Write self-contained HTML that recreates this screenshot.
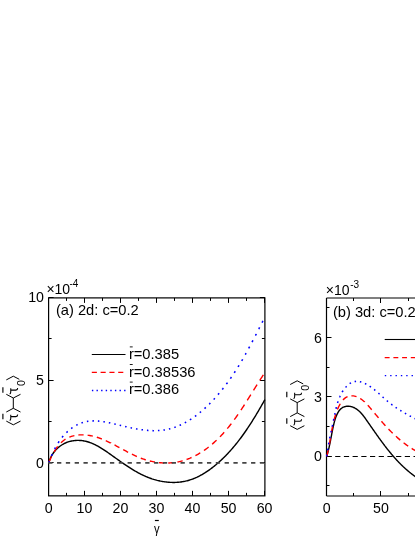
<!DOCTYPE html>
<html><head><meta charset="utf-8"><title>chart</title>
<style>
html,body{margin:0;padding:0;background:#fff;}
svg{display:block;will-change:transform;}
text{font-family:"Liberation Sans",sans-serif;fill:#000;}
.tau{font-family:"Liberation Serif",serif;}
</style></head><body>
<svg width="415" height="537" viewBox="0 0 415 537">
<rect width="415" height="537" fill="#fff"/>
<defs><clipPath id="cr"><rect x="320" y="290" width="95" height="215"/></clipPath></defs>
<!-- left panel -->
<g fill="none" stroke="#000" stroke-width="1.2">
<rect x="48.6" y="297.9" width="216.30" height="197.95"/>
<path d="M326.5,496.0 H416 M326.5,298.0 H416 M326.5,298.0 V496.0"/>
</g>
<g fill="none" stroke="#000" stroke-width="1">
<path d="M48.50,495.85 v-5 M48.50,297.9 v5"/>
<path d="M66.50,495.85 v-3 M66.50,297.9 v3"/>
<path d="M84.50,495.85 v-5 M84.50,297.9 v5"/>
<path d="M102.50,495.85 v-3 M102.50,297.9 v3"/>
<path d="M120.50,495.85 v-5 M120.50,297.9 v5"/>
<path d="M138.50,495.85 v-3 M138.50,297.9 v3"/>
<path d="M156.50,495.85 v-5 M156.50,297.9 v5"/>
<path d="M174.50,495.85 v-3 M174.50,297.9 v3"/>
<path d="M192.50,495.85 v-5 M192.50,297.9 v5"/>
<path d="M210.50,495.85 v-3 M210.50,297.9 v3"/>
<path d="M228.50,495.85 v-5 M228.50,297.9 v5"/>
<path d="M246.50,495.85 v-3 M246.50,297.9 v3"/>
<path d="M264.50,495.85 v-5 M264.50,297.9 v5"/>
<path d="M48.6,297.50 h5 M264.9,297.50 h-5"/>
<path d="M48.6,338.50 h3 M264.9,338.50 h-3"/>
<path d="M48.6,380.50 h5 M264.9,380.50 h-5"/>
<path d="M48.6,421.50 h3 M264.9,421.50 h-3"/>
<path d="M48.6,462.50 h5 M264.9,462.50 h-5"/>
<path d="M326.50,496.0 v-5 M326.50,298.0 v5"/>
<path d="M353.50,496.0 v-3 M353.50,298.0 v3"/>
<path d="M380.50,496.0 v-5 M380.50,298.0 v5"/>
<path d="M408.50,496.0 v-3 M408.50,298.0 v3"/>
<path d="M326.5,307.50 h3"/>
<path d="M326.5,337.50 h5"/>
<path d="M326.5,367.50 h3"/>
<path d="M326.5,396.50 h5"/>
<path d="M326.5,426.50 h3"/>
<path d="M326.5,456.50 h5"/>
<path d="M326.5,485.50 h3"/>
</g>
<!-- zero lines -->
<path d="M326.5,456.5 H416" stroke="#000" stroke-width="1.1" stroke-dasharray="5.2,3.5" fill="none"/>
<!-- curves left -->
<path d="M48.70,462.91 L48.98,461.94 L49.28,460.99 L49.61,460.06 L49.97,459.15 L50.36,458.25 L50.77,457.37 L51.20,456.51 L51.66,455.66 L52.14,454.84 L52.65,454.03 L53.18,453.25 L53.73,452.48 L54.30,451.73 L54.89,451.01 L55.50,450.30 L56.13,449.62 L56.78,448.96 L57.44,448.32 L58.12,447.71 L58.82,447.11 L59.53,446.54 L60.26,446.00 L61.00,445.47 L61.76,444.98 L62.53,444.50 L63.31,444.05 L64.10,443.63 L64.90,443.24 L65.71,442.87 L66.54,442.52 L67.37,442.21 L68.21,441.91 L69.05,441.65 L69.90,441.41 L70.76,441.20 L71.63,441.01 L72.50,440.85 L73.37,440.71 L74.25,440.60 L75.13,440.51 L76.02,440.45 L76.90,440.41 L77.79,440.39 L78.68,440.40 L79.56,440.43 L80.45,440.49 L81.34,440.57 L82.22,440.67 L83.10,440.79 L83.98,440.94 L84.86,441.11 L85.73,441.30 L86.60,441.51 L87.46,441.75 L88.31,442.00 L89.17,442.28 L90.01,442.57 L90.86,442.88 L91.70,443.21 L92.53,443.56 L93.36,443.93 L94.19,444.31 L95.01,444.70 L95.83,445.11 L96.65,445.53 L97.46,445.97 L98.27,446.41 L99.08,446.87 L99.88,447.34 L100.68,447.82 L101.48,448.31 L102.27,448.81 L103.06,449.31 L103.85,449.83 L104.64,450.35 L105.42,450.87 L106.21,451.40 L106.99,451.94 L107.76,452.48 L108.54,453.02 L109.32,453.57 L110.09,454.11 L110.86,454.66 L111.63,455.21 L112.40,455.76 L113.17,456.31 L113.93,456.86 L114.70,457.40 L115.47,457.95 L116.23,458.50 L116.99,459.04 L117.76,459.59 L118.52,460.13 L119.28,460.67 L120.05,461.21 L120.81,461.74 L121.57,462.28 L122.34,462.81 L123.10,463.34 L123.86,463.86 L124.63,464.39 L125.40,464.90 L126.16,465.42 L126.93,465.93 L127.70,466.44 L128.47,466.94 L129.24,467.44 L130.02,467.94 L130.79,468.43 L131.57,468.91 L132.35,469.39 L133.13,469.87 L133.91,470.34 L134.70,470.80 L135.49,471.26 L136.28,471.71 L137.07,472.15 L137.87,472.59 L138.66,473.02 L139.47,473.45 L140.27,473.86 L141.08,474.27 L141.89,474.67 L142.71,475.07 L143.53,475.45 L144.35,475.83 L145.17,476.20 L146.00,476.56 L146.84,476.91 L147.68,477.26 L148.52,477.59 L149.37,477.92 L150.22,478.23 L151.08,478.53 L151.94,478.83 L152.81,479.11 L153.68,479.39 L154.56,479.65 L155.44,479.90 L156.33,480.15 L157.22,480.38 L158.12,480.59 L159.02,480.80 L159.92,481.00 L160.83,481.18 L161.74,481.35 L162.65,481.52 L163.57,481.66 L164.48,481.80 L165.40,481.92 L166.33,482.03 L167.25,482.13 L168.17,482.21 L169.10,482.28 L170.02,482.34 L170.95,482.39 L171.88,482.42 L172.80,482.43 L173.73,482.44 L174.65,482.43 L175.57,482.40 L176.49,482.36 L177.41,482.31 L178.33,482.24 L179.25,482.15 L180.16,482.06 L181.07,481.94 L181.97,481.81 L182.88,481.67 L183.77,481.51 L184.67,481.33 L185.56,481.14 L186.45,480.93 L187.33,480.71 L188.20,480.47 L189.08,480.21 L189.95,479.94 L190.81,479.66 L191.67,479.36 L192.52,479.05 L193.37,478.73 L194.22,478.39 L195.06,478.04 L195.90,477.67 L196.73,477.30 L197.55,476.91 L198.38,476.51 L199.19,476.10 L200.01,475.68 L200.82,475.24 L201.62,474.80 L202.42,474.34 L203.21,473.88 L204.00,473.40 L204.79,472.92 L205.57,472.42 L206.35,471.92 L207.12,471.41 L207.88,470.89 L208.64,470.36 L209.40,469.82 L210.15,469.28 L210.90,468.72 L211.64,468.17 L212.38,467.60 L213.11,467.03 L213.84,466.45 L214.57,465.87 L215.28,465.28 L216.00,464.68 L216.71,464.08 L217.41,463.48 L218.11,462.87 L218.80,462.25 L219.49,461.63 L220.18,461.01 L220.86,460.39 L221.53,459.75 L222.20,459.12 L222.87,458.48 L223.53,457.84 L224.19,457.19 L224.84,456.54 L225.49,455.89 L226.13,455.23 L226.77,454.57 L227.40,453.91 L228.03,453.24 L228.66,452.57 L229.28,451.89 L229.90,451.21 L230.51,450.53 L231.12,449.85 L231.73,449.16 L232.33,448.47 L232.93,447.77 L233.52,447.07 L234.11,446.37 L234.70,445.67 L235.29,444.96 L235.86,444.25 L236.44,443.54 L237.01,442.82 L237.58,442.10 L238.15,441.38 L238.71,440.65 L239.27,439.93 L239.82,439.20 L240.38,438.47 L240.93,437.73 L241.47,436.99 L242.02,436.25 L242.56,435.51 L243.09,434.77 L243.63,434.02 L244.16,433.27 L244.68,432.52 L245.21,431.77 L245.73,431.01 L246.25,430.25 L246.77,429.49 L247.28,428.73 L247.80,427.97 L248.30,427.20 L248.81,426.44 L249.32,425.67 L249.82,424.90 L250.32,424.12 L250.82,423.35 L251.31,422.57 L251.80,421.80 L252.29,421.02 L252.78,420.24 L253.27,419.46 L253.75,418.67 L254.24,417.89 L254.72,417.10 L255.20,416.32 L255.67,415.53 L256.15,414.74 L256.62,413.95 L257.09,413.16 L257.56,412.37 L258.03,411.57 L258.50,410.78 L258.96,409.99 L259.43,409.19 L259.89,408.39 L260.35,407.60 L260.81,406.80 L261.27,406.00 L261.73,405.20 L262.18,404.40 L262.64,403.60 L263.09,402.80 L263.54,402.00 L264.00,401.20 L264.45,400.40 L264.90,399.60" fill="none" stroke="#000" stroke-width="1.4"/>
<path d="M48.70,462.90 L49.21,461.66 L49.76,460.39 L50.33,459.10 L50.94,457.79 L51.56,456.51 M54.08,451.86 L54.74,450.77 L55.44,449.67 L56.16,448.59 L56.92,447.53 L57.70,446.49 L57.74,446.44 M60.95,442.81 L61.81,441.99 L62.70,441.21 L63.62,440.47 L64.56,439.77 L65.50,439.14 M69.32,437.17 L70.28,436.79 L71.30,436.43 L72.34,436.11 L73.39,435.83 L74.40,435.60 M78.43,434.99 L79.40,434.91 L80.43,434.86 L81.45,434.83 L82.48,434.83 L83.50,434.85 L83.63,434.85 M87.67,435.19 L88.68,435.32 L89.74,435.49 L90.79,435.69 L91.84,435.90 L92.83,436.13 M96.81,437.22 L97.80,437.54 L98.82,437.88 L99.84,438.24 L100.86,438.62 L101.87,439.01 M105.76,440.66 L106.71,441.09 L107.71,441.56 L108.71,442.03 L109.70,442.52 L110.70,443.01 L110.70,443.02 M114.53,444.98 L115.48,445.48 L116.47,446.01 L117.46,446.54 L118.45,447.08 L119.41,447.60 M123.21,449.66 L124.16,450.17 L125.16,450.71 L126.16,451.24 L127.16,451.77 L128.10,452.26 M131.93,454.20 L132.90,454.67 L133.92,455.15 L134.94,455.63 L135.96,456.10 L136.89,456.51 M140.79,458.12 L141.73,458.47 L142.72,458.83 L143.71,459.18 L144.70,459.51 L145.70,459.83 L145.85,459.87 M149.83,460.98 L150.82,461.21 L151.84,461.44 L152.86,461.66 L153.88,461.86 L154.91,462.04 L154.98,462.05 M159.01,462.62 L159.98,462.72 L161.02,462.81 L162.05,462.88 L163.08,462.94 L164.11,462.98 L164.20,462.99 M168.25,462.99 L169.27,462.95 L170.29,462.89 L171.32,462.82 L172.34,462.73 L173.36,462.62 L173.44,462.61 M177.47,462.00 L178.43,461.82 L179.43,461.60 L180.43,461.37 L181.42,461.12 L182.41,460.85 L182.61,460.80 M186.56,459.53 L187.56,459.16 L188.59,458.77 L189.61,458.36 L190.62,457.92 L191.57,457.50 M195.42,455.63 L196.40,455.11 L197.37,454.57 L198.33,454.02 L199.29,453.46 L200.24,452.88 L200.27,452.87 M203.97,450.46 L204.88,449.82 L205.85,449.14 L206.80,448.44 L207.74,447.73 L208.62,447.05 M212.17,444.16 L213.05,443.40 L213.93,442.62 L214.80,441.84 L215.66,441.04 L216.52,440.24 L216.60,440.17 M219.96,436.84 L220.81,435.96 L221.66,435.06 L222.51,434.15 L223.34,433.23 L224.15,432.32 M227.32,428.62 L228.11,427.67 L228.89,426.71 L229.67,425.73 L230.44,424.75 L231.21,423.77 L231.28,423.67 M234.28,419.67 L235.03,418.65 L235.80,417.58 L236.56,416.50 L237.33,415.42 L238.04,414.39 M240.90,410.17 L241.63,409.07 L242.36,407.97 L243.09,406.86 L243.81,405.75 L244.51,404.67 M247.28,400.32 L247.97,399.22 L248.68,398.10 L249.38,396.97 L250.08,395.85 L250.78,394.73 L250.80,394.70 M253.54,390.31 L254.23,389.19 L254.93,388.08 L255.62,386.96 L256.32,385.85 L257.02,384.74 L257.06,384.68 M259.82,380.33 L260.52,379.24 L261.23,378.15 L261.93,377.07 L262.64,375.99 L263.35,374.91 L263.42,374.81" fill="none" stroke="#ff0000" stroke-width="1.4"/>
<path d="M48.70,462.90 L48.84,462.51 L48.98,462.12 L49.13,461.73 L49.27,461.34 L49.41,460.96 M51.43,455.88 L51.57,455.56 L51.72,455.22 L51.87,454.88 L52.01,454.54 L52.16,454.21 L52.24,454.03 M54.55,449.22 L54.69,448.95 L54.86,448.61 L55.04,448.28 L55.21,447.94 L55.39,447.61 L55.47,447.48 M58.08,443.02 L58.24,442.76 L58.45,442.44 L58.66,442.12 L58.87,441.80 L59.08,441.49 L59.11,441.43 M62.05,437.43 L62.28,437.14 L62.52,436.85 L62.76,436.56 L63.00,436.27 L63.20,436.03 M66.44,432.58 L66.67,432.37 L66.94,432.11 L67.21,431.85 L67.49,431.60 L67.71,431.40 M71.19,428.52 L71.44,428.34 L71.73,428.13 L72.03,427.91 L72.33,427.70 L72.54,427.56 M76.23,425.28 L76.47,425.15 L76.73,425.02 L76.98,424.88 L77.24,424.75 L77.49,424.62 L77.64,424.55 M81.48,422.91 L81.73,422.83 L81.99,422.73 L82.26,422.64 L82.52,422.56 L82.79,422.47 L82.95,422.42 M86.89,421.47 L87.11,421.43 L87.39,421.39 L87.66,421.34 L87.93,421.30 L88.21,421.26 L88.38,421.24 M92.38,420.91 L92.65,420.90 L92.93,420.89 L93.21,420.89 L93.49,420.89 L93.77,420.88 L93.88,420.88 M97.88,421.04 L98.09,421.06 L98.38,421.08 L98.66,421.11 L98.95,421.13 L99.24,421.16 L99.37,421.17 M103.36,421.69 L103.63,421.73 L103.92,421.78 L104.21,421.83 L104.50,421.88 L104.79,421.92 L104.85,421.93 M108.81,422.69 L109.11,422.75 L109.40,422.81 L109.69,422.88 L109.99,422.94 L110.28,423.00 L110.30,423.01 M114.25,423.91 L114.49,423.97 L114.78,424.04 L115.08,424.11 L115.37,424.18 L115.67,424.25 L115.73,424.26 M119.68,425.22 L119.90,425.28 L120.20,425.35 L120.50,425.42 L120.80,425.49 L121.09,425.57 L121.16,425.58 M125.11,426.52 L125.34,426.57 L125.64,426.64 L125.94,426.71 L126.23,426.78 L126.53,426.84 L126.59,426.86 M130.55,427.72 L130.78,427.77 L131.08,427.84 L131.38,427.90 L131.68,427.96 L131.97,428.02 L132.03,428.03 M136.00,428.79 L136.29,428.85 L136.59,428.90 L136.89,428.95 L137.18,429.00 L137.48,429.05 L137.49,429.05 M141.47,429.67 L141.70,429.71 L142.00,429.75 L142.29,429.79 L142.59,429.82 L142.88,429.86 L142.96,429.87 M146.95,430.31 L147.22,430.33 L147.52,430.36 L147.81,430.38 L148.10,430.40 L148.39,430.43 L148.45,430.43 M152.44,430.63 L152.69,430.64 L152.98,430.65 L153.27,430.65 L153.56,430.66 L153.85,430.66 L153.94,430.66 M157.94,430.58 L158.16,430.57 L158.45,430.56 L158.73,430.54 L159.02,430.52 L159.30,430.51 L159.44,430.50 M163.43,430.08 L163.69,430.05 L163.97,430.01 L164.25,429.96 L164.53,429.92 L164.81,429.88 L164.92,429.86 M168.88,429.05 L169.10,429.00 L169.38,428.93 L169.65,428.86 L169.93,428.79 L170.20,428.72 L170.36,428.68 M174.28,427.48 L174.54,427.39 L174.81,427.30 L175.08,427.20 L175.35,427.11 L175.61,427.01 L175.74,426.96 M179.59,425.40 L179.85,425.28 L180.11,425.17 L180.37,425.05 L180.63,424.93 L180.89,424.81 L181.02,424.75 M184.81,422.84 L185.02,422.72 L185.28,422.58 L185.53,422.44 L185.78,422.30 L186.04,422.16 L186.21,422.06 M189.92,419.84 L190.12,419.71 L190.36,419.55 L190.61,419.40 L190.86,419.23 L191.10,419.07 L191.29,418.95 M194.91,416.44 L195.12,416.29 L195.36,416.11 L195.60,415.93 L195.84,415.76 L196.08,415.58 L196.25,415.45 M199.77,412.68 L200.02,412.48 L200.31,412.24 L200.60,412.00 L200.89,411.75 L201.08,411.59 M204.52,408.59 L204.75,408.37 L205.03,408.12 L205.31,407.86 L205.59,407.60 L205.79,407.42 M209.13,404.19 L209.36,403.97 L209.62,403.70 L209.89,403.43 L210.16,403.16 L210.37,402.95 M213.62,399.53 L213.88,399.26 L214.13,398.98 L214.39,398.70 L214.64,398.42 L214.83,398.21 M217.99,394.62 L218.24,394.33 L218.48,394.05 L218.73,393.76 L218.97,393.47 L219.16,393.24 M222.24,389.48 L222.43,389.25 L222.66,388.96 L222.89,388.67 L223.12,388.38 L223.35,388.08 L223.38,388.05 M226.37,384.14 L226.58,383.85 L226.80,383.56 L227.02,383.26 L227.24,382.97 L227.45,382.67 L227.47,382.65 M230.37,378.60 L230.56,378.32 L230.77,378.02 L230.98,377.72 L231.19,377.42 L231.39,377.12 L231.44,377.05 M234.25,372.86 L234.43,372.59 L234.63,372.28 L234.83,371.98 L235.03,371.67 L235.22,371.37 L235.29,371.27 M238.01,366.96 L238.16,366.71 L238.35,366.40 L238.54,366.09 L238.73,365.79 L238.92,365.48 L239.01,365.33 M241.66,360.91 L241.82,360.64 L242.00,360.32 L242.18,360.01 L242.37,359.70 L242.55,359.39 L242.63,359.24 M245.20,354.73 L245.38,354.42 L245.55,354.10 L245.73,353.79 L245.91,353.47 L246.08,353.16 L246.15,353.03 M248.66,348.45 L248.83,348.13 L249.00,347.81 L249.18,347.49 L249.35,347.17 L249.52,346.85 L249.59,346.72 M252.05,342.08 L252.21,341.77 L252.38,341.45 L252.55,341.13 L252.72,340.80 L252.89,340.48 L252.97,340.33 M255.39,335.65 L255.55,335.35 L255.71,335.02 L255.88,334.69 L256.05,334.37 L256.22,334.04 L256.29,333.89 M258.69,329.19 L258.83,328.92 L259.00,328.59 L259.17,328.26 L259.33,327.93 L259.50,327.60 L259.59,327.43 M261.99,322.72 L262.13,322.44 L262.30,322.11 L262.47,321.78 L262.63,321.44 L262.80,321.11 L262.89,320.95" fill="none" stroke="#0000ff" stroke-width="1.55"/>
<path d="M48.2,462.8 H264.9" stroke="#454545" stroke-width="1.65" stroke-dasharray="4.3,4.52" fill="none"/>
<g clip-path="url(#cr)">
<path d="M326.70,456.40 L326.87,455.82 L327.05,455.24 L327.21,454.67 L327.37,454.10 L327.53,453.54 L327.69,452.98 L327.84,452.42 L327.98,451.87 L328.13,451.32 L328.27,450.78 L328.40,450.23 L328.54,449.69 L328.67,449.16 L328.79,448.62 L328.92,448.09 L329.04,447.56 L329.16,447.03 L329.28,446.50 L329.39,445.98 L329.51,445.45 L329.62,444.93 L329.73,444.41 L329.84,443.89 L329.94,443.37 L330.05,442.85 L330.15,442.34 L330.25,441.82 L330.35,441.30 L330.46,440.78 L330.56,440.26 L330.65,439.75 L330.75,439.23 L330.85,438.71 L330.95,438.19 L331.05,437.67 L331.15,437.14 L331.25,436.62 L331.35,436.09 L331.45,435.56 L331.55,435.04 L331.65,434.50 L331.75,433.97 L331.85,433.43 L331.96,432.89 L332.06,432.35 L332.17,431.81 L332.28,431.26 L332.39,430.71 L332.50,430.16 L332.61,429.60 L332.73,429.04 L332.85,428.47 L332.97,427.90 L333.09,427.33 L333.21,426.75 L333.34,426.16 L333.47,425.58 L333.61,424.99 L333.75,424.39 L333.89,423.80 L334.04,423.20 L334.19,422.61 L334.34,422.01 L334.50,421.41 L334.67,420.82 L334.84,420.23 L335.01,419.64 L335.19,419.06 L335.38,418.48 L335.57,417.90 L335.78,417.33 L335.98,416.77 L336.20,416.21 L336.42,415.67 L336.65,415.13 L336.89,414.60 L337.13,414.08 L337.39,413.57 L337.65,413.07 L337.92,412.59 L338.20,412.11 L338.49,411.65 L338.79,411.21 L339.10,410.78 L339.42,410.37 L339.76,409.97 L340.10,409.59 L340.45,409.22 L340.81,408.88 L341.19,408.55 L341.58,408.25 L341.97,407.96 L342.39,407.70 L342.81,407.45 L343.25,407.23 L343.69,407.03 L344.15,406.86 L344.62,406.70 L345.10,406.57 L345.58,406.46 L346.07,406.37 L346.57,406.30 L347.08,406.25 L347.59,406.23 L348.10,406.22 L348.62,406.24 L349.14,406.28 L349.66,406.33 L350.18,406.41 L350.70,406.51 L351.22,406.62 L351.74,406.76 L352.26,406.92 L352.77,407.10 L353.28,407.30 L353.78,407.51 L354.28,407.75 L354.77,408.00 L355.26,408.27 L355.73,408.56 L356.21,408.86 L356.67,409.18 L357.13,409.51 L357.58,409.85 L358.03,410.20 L358.47,410.57 L358.90,410.94 L359.32,411.33 L359.73,411.72 L360.13,412.11 L360.53,412.52 L360.92,412.93 L361.30,413.34 L361.68,413.77 L362.05,414.19 L362.41,414.62 L362.77,415.06 L363.12,415.50 L363.47,415.94 L363.81,416.39 L364.15,416.84 L364.49,417.29 L364.82,417.75 L365.15,418.21 L365.48,418.67 L365.81,419.13 L366.13,419.59 L366.46,420.05 L366.78,420.51 L367.10,420.98 L367.43,421.44 L367.75,421.90 L368.07,422.37 L368.39,422.83 L368.72,423.29 L369.04,423.76 L369.36,424.22 L369.68,424.68 L370.01,425.15 L370.33,425.61 L370.65,426.07 L370.97,426.54 L371.29,427.00 L371.62,427.46 L371.94,427.93 L372.26,428.39 L372.58,428.85 L372.91,429.31 L373.23,429.77 L373.55,430.24 L373.87,430.70 L374.20,431.16 L374.52,431.62 L374.84,432.08 L375.17,432.54 L375.49,433.00 L375.81,433.46 L376.14,433.92 L376.46,434.38 L376.79,434.84 L377.11,435.29 L377.44,435.75 L377.76,436.21 L378.09,436.67 L378.42,437.12 L378.74,437.58 L379.07,438.03 L379.40,438.49 L379.73,438.94 L380.06,439.40 L380.39,439.85 L380.72,440.30 L381.05,440.75 L381.38,441.20 L381.71,441.65 L382.04,442.10 L382.38,442.55 L382.71,443.00 L383.04,443.45 L383.38,443.90 L383.71,444.34 L384.05,444.79 L384.39,445.23 L384.73,445.67 L385.06,446.12 L385.40,446.56 L385.74,447.00 L386.09,447.44 L386.43,447.88 L386.77,448.32 L387.11,448.76 L387.46,449.19 L387.80,449.63 L388.15,450.06 L388.50,450.50 L388.85,450.93 L389.20,451.36 L389.55,451.79 L389.90,452.22 L390.25,452.65 L390.60,453.07 L390.96,453.50 L391.32,453.93 L391.67,454.35 L392.03,454.77 L392.39,455.19 L392.75,455.61 L393.11,456.03 L393.47,456.45 L393.84,456.87 L394.20,457.28 L394.57,457.69 L394.94,458.11 L395.31,458.52 L395.68,458.93 L396.05,459.34 L396.42,459.74 L396.80,460.15 L397.17,460.55 L397.55,460.95 L397.93,461.36 L398.31,461.76 L398.69,462.15 L399.08,462.55 L399.46,462.95 L399.85,463.34 L400.23,463.73 L400.62,464.12 L401.01,464.51 L401.41,464.90 L401.80,465.28 L402.20,465.67 L402.60,466.05 L402.99,466.43 L403.40,466.81 L403.80,467.19 L404.20,467.56 L404.61,467.94 L405.02,468.31 L405.43,468.68 L405.84,469.05 L406.25,469.41 L406.67,469.78 L407.08,470.14 L407.50,470.50 L407.92,470.86 L408.35,471.22 L408.77,471.57 L409.20,471.92 L409.63,472.28 L410.06,472.62 L410.49,472.97 L410.92,473.32 L411.36,473.66 L411.80,474.00 L412.24,474.34 L412.68,474.68 L413.13,475.01 L413.57,475.35 L414.02,475.68 L414.48,476.00 L414.93,476.33 L415.39,476.65 L415.84,476.98 L416.30,477.30 L416.77,477.61 L417.23,477.93 L417.70,478.24 L418.17,478.55 L418.64,478.86 L419.11,479.17 L419.59,479.47 L420.07,479.77 L420.55,480.07 L421.04,480.37 L421.52,480.66 L422.01,480.95 L422.50,481.24 L423.00,481.53" fill="none" stroke="#000" stroke-width="1.4"/>
<path d="M326.70,456.40 L327.05,455.07 L327.39,453.74 L327.70,452.42 L328.00,451.11 L328.29,449.80 L328.31,449.73 M329.31,444.64 L329.55,443.30 L329.79,441.94 L330.02,440.58 L330.25,439.23 L330.48,437.88 L330.49,437.80 M331.37,432.67 L331.60,431.34 L331.85,429.99 L332.10,428.65 L332.37,427.30 L332.64,425.95 L332.66,425.87 M333.82,420.85 L334.15,419.57 L334.51,418.28 L334.88,416.98 L335.28,415.68 L335.70,414.37 L335.72,414.31 M337.44,409.59 L337.94,408.37 L338.48,407.15 L339.05,405.96 L339.66,404.80 L340.27,403.72 M342.99,399.96 L343.81,399.12 L344.68,398.36 L345.59,397.69 L346.55,397.11 L347.54,396.64 M351.38,395.84 L352.42,395.84 L353.46,395.92 L354.50,396.08 L355.52,396.33 L356.53,396.64 M360.19,398.46 L361.09,399.06 L362.00,399.73 L362.90,400.45 L363.78,401.20 L364.65,401.99 L364.66,402.01 M367.77,405.19 L368.55,406.06 L369.35,406.97 L370.13,407.88 L370.90,408.79 L371.66,409.69 L371.72,409.76 M374.64,413.25 L375.42,414.18 L376.21,415.12 L377.00,416.06 L377.78,416.99 L378.54,417.89 M381.49,421.33 L382.27,422.23 L383.06,423.12 L383.86,424.02 L384.67,424.91 L385.48,425.81 L385.49,425.82 M388.55,429.08 L389.35,429.91 L390.19,430.77 L391.03,431.62 L391.88,432.46 L392.72,433.28 M395.92,436.29 L396.78,437.08 L397.66,437.86 L398.54,438.63 L399.44,439.40 L400.28,440.11 M403.63,442.81 L404.51,443.49 L405.42,444.17 L406.33,444.83 L407.25,445.49 L408.17,446.14 L408.20,446.16 M411.70,448.46 L412.65,449.05 L413.61,449.62 L414.58,450.18 L415.55,450.73 L416.48,451.23" fill="none" stroke="#ff0000" stroke-width="1.4"/>
<path d="M326.70,456.40 L326.74,456.07 L326.79,455.74 L326.83,455.41 L326.87,455.08 L326.92,454.76 L326.93,454.70 M327.56,450.39 L327.61,450.05 L327.67,449.69 L327.72,449.33 L327.78,448.97 L327.83,448.69 M328.56,444.40 L328.62,444.09 L328.67,443.77 L328.73,443.46 L328.79,443.15 L328.85,442.83 L328.87,442.71 M329.68,438.45 L329.75,438.10 L329.82,437.75 L329.89,437.40 L329.96,437.05 L330.02,436.76 M330.89,432.51 L330.96,432.20 L331.03,431.85 L331.11,431.50 L331.18,431.15 L331.25,430.84 M332.16,426.59 L332.23,426.26 L332.31,425.91 L332.38,425.56 L332.46,425.20 L332.52,424.92 M333.44,420.68 L333.50,420.38 L333.57,420.07 L333.64,419.75 L333.71,419.44 L333.78,419.12 L333.80,419.00 M334.71,414.76 L334.77,414.46 L334.84,414.14 L334.90,413.82 L334.97,413.50 L335.04,413.17 L335.06,413.08 M335.99,408.85 L336.07,408.54 L336.14,408.22 L336.22,407.89 L336.30,407.57 L336.38,407.25 L336.39,407.18 M337.52,403.01 L337.61,402.70 L337.71,402.38 L337.81,402.06 L337.91,401.75 L338.01,401.43 L338.02,401.39 M339.50,397.36 L339.63,397.06 L339.75,396.76 L339.89,396.46 L340.02,396.16 L340.16,395.86 L340.17,395.82 M342.13,392.08 L342.29,391.80 L342.46,391.52 L342.64,391.24 L342.82,390.96 L343.00,390.68 L343.00,390.68 M345.49,387.38 L345.69,387.16 L345.91,386.92 L346.12,386.68 L346.35,386.45 L346.57,386.22 L346.59,386.20 M349.65,383.63 L349.90,383.47 L350.15,383.31 L350.40,383.15 L350.66,383.00 L350.91,382.86 L350.98,382.82 M354.60,381.53 L354.88,381.49 L355.19,381.45 L355.51,381.41 L355.82,381.38 L356.09,381.37 M359.87,381.71 L360.15,381.78 L360.45,381.85 L360.74,381.93 L361.04,382.01 L361.33,382.09 M364.93,383.50 L365.17,383.62 L365.43,383.75 L365.69,383.88 L365.94,384.01 L366.20,384.15 L366.30,384.20 M369.67,386.21 L369.89,386.36 L370.14,386.53 L370.39,386.69 L370.63,386.86 L370.88,387.03 L370.96,387.09 M374.14,389.48 L374.38,389.67 L374.64,389.88 L374.90,390.09 L375.16,390.30 L375.37,390.47 M378.41,393.09 L378.65,393.30 L378.90,393.52 L379.14,393.74 L379.38,393.96 L379.59,394.15 M382.57,396.86 L382.81,397.08 L383.05,397.29 L383.28,397.51 L383.52,397.73 L383.75,397.93 M386.77,400.59 L386.99,400.77 L387.24,400.98 L387.48,401.19 L387.73,401.39 L387.98,401.60 L387.98,401.60 M391.11,404.08 L391.34,404.25 L391.59,404.44 L391.85,404.63 L392.10,404.82 L392.36,405.02 L392.37,405.02 M395.60,407.32 L395.85,407.50 L396.12,407.68 L396.38,407.86 L396.65,408.04 L396.89,408.20 M400.20,410.35 L400.45,410.50 L400.72,410.67 L400.99,410.84 L401.26,411.01 L401.52,411.17 M404.90,413.17 L405.17,413.33 L405.45,413.49 L405.73,413.65 L406.01,413.81 L406.24,413.94 M409.67,415.82 L409.93,415.97 L410.22,416.12 L410.50,416.27 L410.79,416.42 L411.03,416.55 M414.50,418.33 L414.79,418.47 L415.08,418.61 L415.37,418.76 L415.66,418.90 L415.88,419.01 M419.38,420.70 L419.45,420.74 L419.56,420.79 L419.67,420.84 L419.78,420.90 L419.89,420.95 L420.00,421.00" fill="none" stroke="#0000ff" stroke-width="1.55"/>
</g>
<!-- legends -->
<g fill="none">
<path d="M91.8,354.5 H125.5" stroke="#000" stroke-width="1.1"/>
<path d="M91.8,372.4 H125.5" stroke="#ff0000" stroke-width="1.1" stroke-dasharray="5.1,3.7"/>
<path d="M91.9,390.5 H125.5" stroke="#0000ff" stroke-width="1.3" stroke-dasharray="1.4,3.2"/>
<path d="M384.7,339.5 H416" stroke="#000" stroke-width="1.1"/>
<path d="M384.7,357.6 H416" stroke="#ff0000" stroke-width="1.1" stroke-dasharray="4.9,3.8"/>
<path d="M384.8,375.6 H416" stroke="#0000ff" stroke-width="1.3" stroke-dasharray="1.4,3.95"/>
</g>
<g font-size="14">
<text transform="translate(128.9,359.0) scale(1.05,1)">r=0.385</text>
<text transform="translate(128.9,376.6) scale(1.05,1)">r=0.38536</text>
<text transform="translate(128.9,394.2) scale(1.05,1)">r=0.386</text>
</g>
<path d="M129.8,346.9 h2.9 M129.8,364.5 h2.9 M129.8,382.1 h2.9" stroke="#000" stroke-width="0.9" fill="none"/>
<!-- panel titles -->
<text transform="translate(55.9,314.8) scale(1.035,1)" font-size="14.2">(a) 2d: c=0.2</text>
<text transform="translate(332.9,317.2) scale(1.035,1)" font-size="14.2">(b) 3d: c=0.2</text>
<!-- exponent labels -->
<text x="46.4" y="293.8" font-size="14">×10</text><text x="69.4" y="287.2" font-size="10">-4</text>
<text x="325.8" y="294.6" font-size="14">×10</text><text x="350.2" y="287.6" font-size="10">-3</text>
<!-- y tick labels left -->
<g font-size="14.2" text-anchor="end">
<text x="44" y="302.3">10</text>
<text x="44" y="385">5</text>
<text x="44" y="467.8">0</text>
<text x="322" y="342.5">6</text>
<text x="322" y="401.8">3</text>
<text x="322" y="461">0</text>
</g>
<g font-size="14.2" text-anchor="middle">
<text x="48.7" y="513">0</text>
<text x="84.4" y="513">10</text>
<text x="120.5" y="513">20</text>
<text x="156.5" y="513">30</text>
<text x="192.5" y="513">40</text>
<text x="228.6" y="513">50</text>
<text x="264.6" y="513">60</text>
<text x="326.6" y="513">0</text>
<text x="381" y="513">50</text>
</g>
<!-- x label -->
<text transform="translate(154.0,533.0) scale(0.9,1)" font-size="12.5">γ</text>
<path d="M154.9,520.5 h3.9" stroke="#000" stroke-width="1.2" fill="none"/>
<g transform="translate(0,0)"><g fill="none" stroke="#000" stroke-width="1"><path d="M6.3,421.1 L13.3,424.8 L20.5,421.1"/><path d="M6.3,412.0 L13.3,408.3 L20.5,412.0"/><path d="M13.3,408.3 V398.0"/><path d="M6.3,394.3 L13.3,398.0 L20.5,394.3"/><path d="M6.3,379.9 L13.3,376.2 L19.3,379.29999999999995"/><path d="M2.9,413.7 V419.2 M2.9,387.2 V392.7" stroke-width="1.15"/><path transform="translate(0,0)" d="M9.7,420.6 Q10.6,420.2 10.75,418.6 L10.75,414.7 M10.75,416.6 L15.9,416.6 Q17.7,416.6 17.7,414.6" stroke-width="1.05"/><path transform="translate(0,-26.5)" d="M9.7,420.6 Q10.6,420.2 10.75,418.6 L10.75,414.7 M10.75,416.6 L15.9,416.6 Q17.7,416.6 17.7,414.6" stroke-width="1.05"/></g><text transform="translate(24.7,386.1) rotate(-90)" font-size="10.7">0</text></g>
<g transform="translate(283.9,4.6)"><g fill="none" stroke="#000" stroke-width="1"><path d="M6.3,421.1 L13.3,424.8 L20.5,421.1"/><path d="M6.3,412.0 L13.3,408.3 L20.5,412.0"/><path d="M13.3,408.3 V398.0"/><path d="M6.3,394.3 L13.3,398.0 L20.5,394.3"/><path d="M6.3,379.9 L13.3,376.2 L19.3,379.29999999999995"/><path d="M2.9,413.7 V419.2 M2.9,387.2 V392.7" stroke-width="1.15"/><path transform="translate(0,0)" d="M9.7,420.6 Q10.6,420.2 10.75,418.6 L10.75,414.7 M10.75,416.6 L15.9,416.6 Q17.7,416.6 17.7,414.6" stroke-width="1.05"/><path transform="translate(0,-26.5)" d="M9.7,420.6 Q10.6,420.2 10.75,418.6 L10.75,414.7 M10.75,416.6 L15.9,416.6 Q17.7,416.6 17.7,414.6" stroke-width="1.05"/></g><text transform="translate(24.7,386.1) rotate(-90)" font-size="10.7">0</text></g>
</svg>
</body></html>
